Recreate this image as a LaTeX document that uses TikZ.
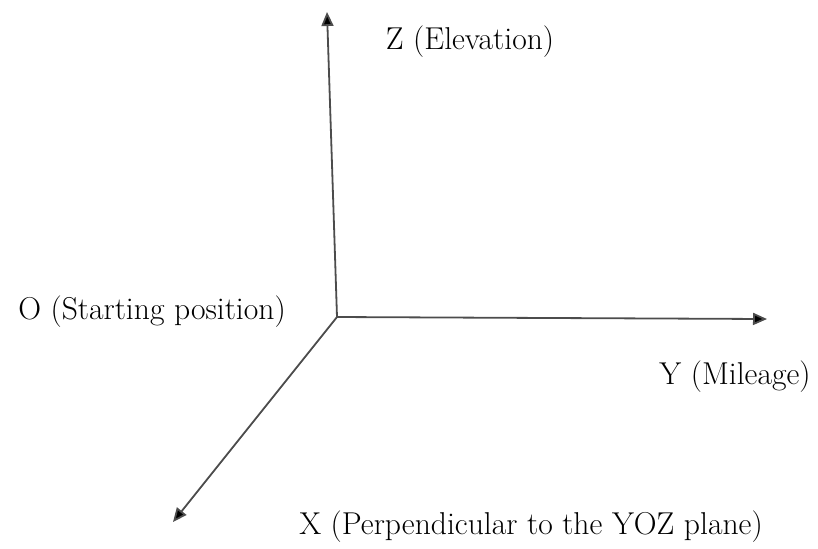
\documentclass[tikz,border=0pt]{standalone}
\usepackage{tikz}
\usetikzlibrary{arrows.meta,positioning}

\begin{document}
\begin{tikzpicture}[x=0.5pt, y=-0.5pt,
    axis/.style={-{Triangle[length=7pt, width=6pt, fill=black]}, line width=0.9pt, black!70},
    axlabel/.style={font=\fontsize{15.8}{18}\selectfont, inner sep=0pt}
]
    \useasboundingbox (0,0) rectangle (818,548);
    % origin and axis ends
    \coordinate (o) at (337,317);
    \coordinate (zend) at (327,12);
    \coordinate (yend) at (767,319);
    \coordinate (xend) at (173,522);
    \draw[axis] (o) -- (zend);
    \draw[axis] (o) -- (yend);
    \draw[axis] (o) -- (xend);
    % labels
    \node[axlabel] (zlab) at (470,42) {Z (Elevation)};
    \node[axlabel] (olab) at (152,312) {O (Starting position)};
    \node[axlabel] (ylab) at (735,377) {Y (Mileage)};
    \node[axlabel] (xlab) at (531,527) {X (Perpendicular to the YOZ plane)};
\end{tikzpicture}
\end{document}
